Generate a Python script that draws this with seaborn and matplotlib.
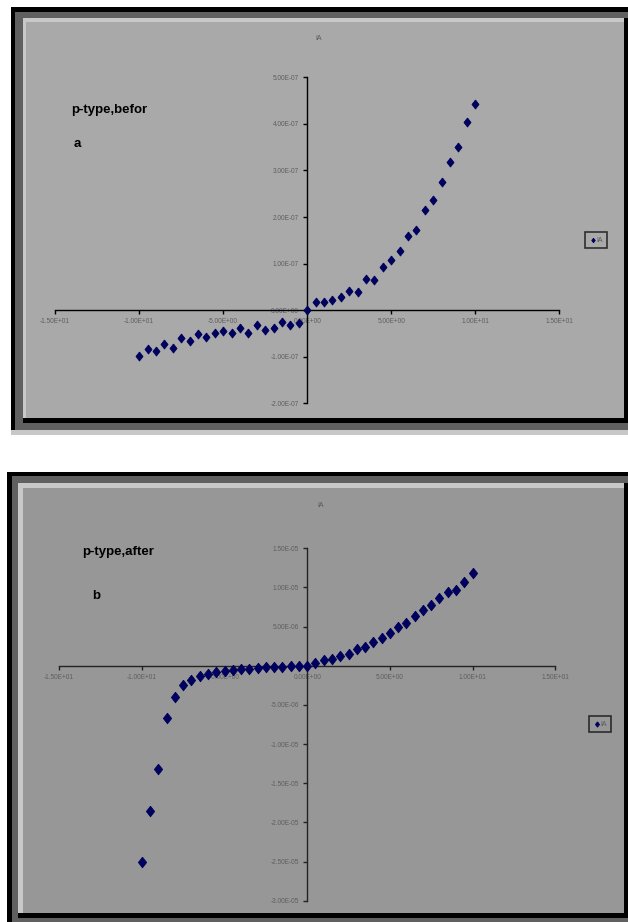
import pandas as pd
import matplotlib.pyplot as plt
import seaborn as sns
from matplotlib.patches import Rectangle
from matplotlib.ticker import FixedLocator, FuncFormatter

sns.set_theme(style="ticks")
plt.rcParams["font.family"] = ["Liberation Sans Narrow", "Liberation Sans", "DejaVu Sans"]

W, H = 628, 922

# Data
voltage = [-10.0, -9.5, -9.0, -8.5, -8.0, -7.5, -7.0, -6.5, -6.0, -5.5, -5.0,
           -4.5, -4.0, -3.5, -3.0, -2.5, -2.0, -1.5, -1.0, -0.5, 0.0,
           0.5, 1.0, 1.5, 2.0, 2.5, 3.0, 3.5, 4.0, 4.5, 5.0,
           5.5, 6.0, 6.5, 7.0, 7.5, 8.0, 8.5, 9.0, 9.5, 10.0]

current_before = [-9.8e-8, -8.3e-8, -8.8e-8, -7.2e-8, -8.2e-8, -5.9e-8, -6.7e-8,
                  -5.2e-8, -5.7e-8, -4.9e-8, -4.5e-8, -4.9e-8, -3.8e-8, -4.9e-8,
                  -3.1e-8, -4.3e-8, -3.8e-8, -2.5e-8, -3.1e-8, -2.8e-8, 0.0,
                  1.7e-8, 1.8e-8, 2.2e-8, 2.8e-8, 4.1e-8, 4.0e-8, 6.6e-8, 6.4e-8,
                  9.3e-8, 1.07e-7, 1.27e-7, 1.59e-7, 1.72e-7, 2.16e-7, 2.36e-7,
                  2.76e-7, 3.19e-7, 3.50e-7, 4.05e-7, 4.42e-7]

current_after = [-2.50e-5, -1.85e-5, -1.32e-5, -6.7e-6, -4.0e-6, -2.5e-6, -1.8e-6,
                 -1.3e-6, -1.0e-6, -8.5e-7, -7.0e-7, -5.5e-7, -4.7e-7, -3.5e-7,
                 -3.0e-7, -2.0e-7, -1.5e-7, -1.2e-7, -8.0e-8, -5.0e-8, 0.0,
                 3.0e-7, 7.0e-7, 9.0e-7, 1.3e-6, 1.5e-6, 2.1e-6, 2.4e-6, 3.0e-6,
                 3.6e-6, 4.2e-6, 4.9e-6, 5.5e-6, 6.3e-6, 7.1e-6, 7.8e-6, 8.6e-6,
                 9.4e-6, 9.7e-6, 1.07e-5, 1.19e-5]

x_ticks = [-15, -10, -5, 0, 5, 10, 15]
y_ticks_before = [-2e-7, -1e-7, 0.0, 1e-7, 2e-7, 3e-7, 4e-7, 5e-7]
y_ticks_after = [-3e-5, -2.5e-5, -2e-5, -1.5e-5, -1e-5, -5e-6, 0.0, 5e-6, 1e-5, 1.5e-5]

MARKER_COLOR = "#00005e"
DIAMOND = [(0, 1), (0.78, 0), (0, -1), (-0.78, 0), (0, 1)]

fig = plt.figure(figsize=(W / 100, H / 100), dpi=100)
fig.patch.set_facecolor("white")


def box(x0, y0, x1, y1, color):
    # rectangle in pixel coords (origin top-left)
    fig.add_artist(Rectangle((x0 / W, 1 - y1 / H), (x1 - x0) / W, (y1 - y0) / H,
                             transform=fig.transFigure, facecolor=color,
                             edgecolor="none", zorder=-5))


# top frame
box(11, 7, 628, 435, "#c8c8c8")
box(11, 7, 628, 430, "#606060")
box(11, 7, 628, 12, "#000000")
box(11, 7, 15, 430, "#000000")
box(23, 18, 628, 418, "#c8c8c8")
box(26, 22, 624, 418, "#a9a9a9")
box(23, 418, 628, 423, "#000000")
box(624, 18, 628, 423, "#000000")

# bottom frame
box(7, 472, 628, 922, "#606060")
box(7, 472, 628, 476, "#000000")
box(7, 472, 12, 922, "#000000")
box(18, 483, 628, 913, "#c8c8c8")
box(23, 488, 624, 913, "#979797")
box(18, 913, 628, 918, "#000000")
box(624, 483, 628, 918, "#000000")


def panel(rect_px, x, y, ylim, yticks, ms, label_zero_y, title_xy, legend_xy,
          axis_color):
    x0, y0, x1, y1 = rect_px
    ax = fig.add_axes([x0 / W, 1 - y1 / H, (x1 - x0) / W, (y1 - y0) / H])
    ax.set_facecolor("none")
    df = pd.DataFrame({"V": x, "IA": y})
    sns.scatterplot(data=df, x="V", y="IA", ax=ax, marker=DIAMOND, s=ms,
                    color=MARKER_COLOR, edgecolor=MARKER_COLOR, linewidth=0.6,
                    label="IA", zorder=5, clip_on=False)
    ax.set_xlim(-15, 15)
    ax.set_ylim(*ylim)
    for side in ["top", "right"]:
        ax.spines[side].set_visible(False)
    for side in ["left", "bottom"]:
        ax.spines[side].set_position(("data", 0))
        ax.spines[side].set_color(axis_color)
        ax.spines[side].set_linewidth(1.0)
    ax.xaxis.set_major_locator(FixedLocator(x_ticks))
    ax.yaxis.set_major_locator(FixedLocator(yticks))
    ax.xaxis.set_major_formatter(FuncFormatter(lambda v, p: f"{v:.2E}"))
    ax.yaxis.set_major_formatter(FuncFormatter(
        lambda v, p: "" if (v == 0 and not label_zero_y) else f"{v:.2E}"))
    ax.tick_params(axis="both", direction="out", length=3, width=1.0,
                   color=axis_color, labelsize=4.7, labelcolor="#5e5e5e", pad=3)
    ax.set_xlabel("")
    ax.set_ylabel("")
    fig.text(title_xy[0] / W, 1 - title_xy[1] / H, "IA", fontsize=5,
             color="#5a5a5a", ha="center", va="center")
    leg = ax.legend(loc="center", bbox_to_anchor=(legend_xy[0] / W, 1 - legend_xy[1] / H),
                    bbox_transform=fig.transFigure, fontsize=5, frameon=True,
                    fancybox=False, handletextpad=0.0, borderpad=0.6,
                    handlelength=1.0, markerscale=0.5, borderaxespad=0)
    leg.get_frame().set_edgecolor("#111111")
    leg.get_frame().set_linewidth(1.2)
    leg.get_frame().set_facecolor("none")
    for t in leg.get_texts():
        t.set_color("#5a5a5a")
    return ax


panel((55.2, 77.3, 559.2, 403.3), voltage, current_before, (-2e-7, 5e-7),
      y_ticks_before, 42, True, (319, 38), (596, 240), "#000000")
panel((59.2, 548.3, 555.2, 900.7), voltage, current_after, (-3e-5, 1.5e-5),
      y_ticks_after, 58, False, (321, 505), (600, 724), "#222222")

label_font = dict(fontsize=9.5, fontweight="bold", color="black", va="center", ha="left")
fig.text(71 / W, 1 - 110 / H, "p-type,befor", **label_font)
fig.text(74 / W, 1 - 144 / H, "a", **label_font)
fig.text(82 / W, 1 - 552 / H, "p-type,after", **label_font)
fig.text(92 / W, 1 - 596 / H, "b", **label_font)

fig.savefig("out.png", dpi=100, facecolor=fig.get_facecolor())
